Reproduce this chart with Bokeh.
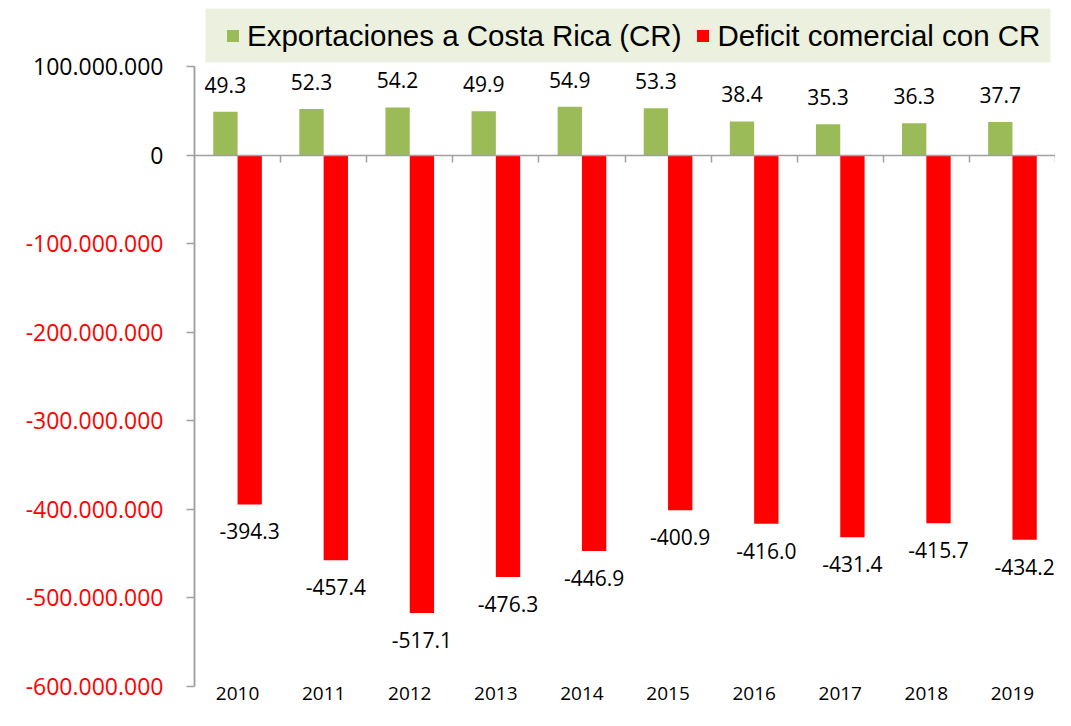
from bokeh.plotting import figure
from bokeh.models import (ColumnDataSource, Range1d, FixedTicker, LinearAxis,
                          LabelSet, Legend, BoxAnnotation)
from bokeh.core.properties import value
from bokeh.embed import file_html
from bokeh.resources import INLINE

# ---- data (values in millions) ----
years = ["2010", "2011", "2012", "2013", "2014", "2015", "2016", "2017", "2018", "2019"]
exportaciones = [49.3, 52.3, 54.2, 49.9, 54.9, 53.3, 38.4, 35.3, 36.3, 37.7]
deficit = [-394.3, -457.4, -517.1, -476.3, -446.9, -400.9, -416.0, -431.4, -415.7, -434.2]
y_ticks = [100_000_000, 0, -100_000_000, -200_000_000, -300_000_000,
           -400_000_000, -500_000_000, -600_000_000]

GREEN = "#9BBB59"
RED = "#FF0000"
GRAY = "#A0A0A0"
FONT = "Open Sans"

W, H = 1055, 710
# plot area inside the canvas (pixels)
PL, PR, PT, PB = 194, 1055, 66.4, 686
y_min, y_max = -600_000_000, 100_000_000
n = len(years)
upx_y = (y_max - y_min) / (PB - PT)
upx_x = n / (PR - PL)
x0 = -PL * upx_x
y1 = y_max + PT * upx_y
x_range = Range1d(x0, n + (W - PR) * upx_x)
y_range = Range1d(y_min - (H - PB) * upx_y, y1)


def px_x(px):
    return x0 + px * upx_x


def px_y(py):
    return y1 - py * upx_y


xc = [i + 0.5 for i in range(n)]
bw = 0.2825
off = bw / 2
src = ColumnDataSource(dict(
    xg=[x - off for x in xc],
    xr=[x + off for x in xc],
    exp=[v * 1e6 for v in exportaciones],
    defi=[v * 1e6 for v in deficit],
    exp_lbl=[f"{v:.1f}" for v in exportaciones],
    def_lbl=[f"{v:.1f}" for v in deficit],
))

p = figure(width=W, height=H, x_range=x_range, y_range=y_range,
           x_axis_location=None, y_axis_location=None,
           output_backend="svg", toolbar_location=None,
           min_border_left=0, min_border_right=0,
           min_border_top=0, min_border_bottom=0)
p.grid.visible = False
p.outline_line_color = None

r1 = p.vbar(x="xg", top="exp", bottom=0, width=bw, source=src,
            fill_color=GREEN, line_color=None)
r2 = p.vbar(x="xr", top=0, bottom="defi", width=bw, source=src,
            fill_color=RED, line_color=None)


def style_y(ax, ticks, color):
    ax.ticker = FixedTicker(ticks=ticks)
    ax.major_label_overrides = {t: f"{t:,}".replace(",", ".") for t in ticks}
    ax.fixed_location = 0
    ax.bounds = (y_min, y_max)
    ax.minor_tick_line_color = None
    ax.major_tick_in = 0
    ax.major_tick_out = 8
    ax.major_tick_line_color = GRAY
    ax.major_tick_line_width = 1.5
    ax.axis_line_color = GRAY
    ax.axis_line_width = 1.5
    ax.major_label_standoff = 23
    ax.major_label_text_font = FONT
    ax.major_label_text_font_size = "23px"
    ax.major_label_text_color = color


ax_pos = LinearAxis()
style_y(ax_pos, [t for t in y_ticks if t >= 0], "black")
ax_neg = LinearAxis()
style_y(ax_neg, [t for t in y_ticks if t < 0], RED)
p.add_layout(ax_neg, "left")
p.add_layout(ax_pos, "left")

# zero line with separators between years
ax_zero = LinearAxis(ticker=FixedTicker(ticks=list(range(1, n + 1))),
                     fixed_location=0, bounds=(0, n),
                     major_label_overrides={i: "" for i in range(1, n + 1)},
                     axis_line_color=GRAY, axis_line_width=1.5,
                     major_tick_line_color=GRAY, major_tick_line_width=1.5,
                     major_tick_in=0, major_tick_out=7,
                     minor_tick_line_color=None,
                     major_label_text_font_size="1px")
p.add_layout(ax_zero, "below")

# year labels
ax_year = LinearAxis(ticker=FixedTicker(ticks=xc),
                     major_label_overrides={x: y for x, y in zip(xc, years)},
                     fixed_location=y_min, bounds=(0, n),
                     axis_line_color=None, major_tick_line_color=None,
                     minor_tick_line_color=None,
                     major_tick_in=0, major_tick_out=0,
                     major_label_standoff=0,
                     major_label_text_font=FONT,
                     major_label_text_font_size="19px",
                     major_label_text_color="black")
p.add_layout(ax_year, "below")

# data labels
p.add_layout(LabelSet(x="xg", y="exp", text="exp_lbl", source=src, y_offset=19,
                      text_align="center", text_baseline="alphabetic",
                      text_color="black", text_font=value(FONT),
                      text_font_size="21px"))
p.add_layout(LabelSet(x="xr", y="defi", text="def_lbl", source=src, y_offset=-35,
                      text_align="center", text_baseline="alphabetic",
                      text_color="black", text_font=value(FONT),
                      text_font_size="21px"))

# legend background band
p.add_layout(BoxAnnotation(left=px_x(205), right=px_x(1050), top=px_y(8), bottom=px_y(62),
                           fill_color="#EBF1DE", fill_alpha=1, line_color=None))

legend = Legend(items=[("Exportaciones a Costa Rica (CR)", [r1]),
                       ("Deficit comercial con CR", [r2])],
                orientation="horizontal", location=(225, H - 52.5),
                background_fill_alpha=0, border_line_color=None,
                label_text_font="Liberation Sans", label_text_font_size="29.5px",
                label_text_color="black",
                glyph_width=15, glyph_height=15, label_standoff=7,
                spacing=14, padding=0, margin=0)
p.add_layout(legend, "center")

open("out.html", "w").write(file_html(p, INLINE))
